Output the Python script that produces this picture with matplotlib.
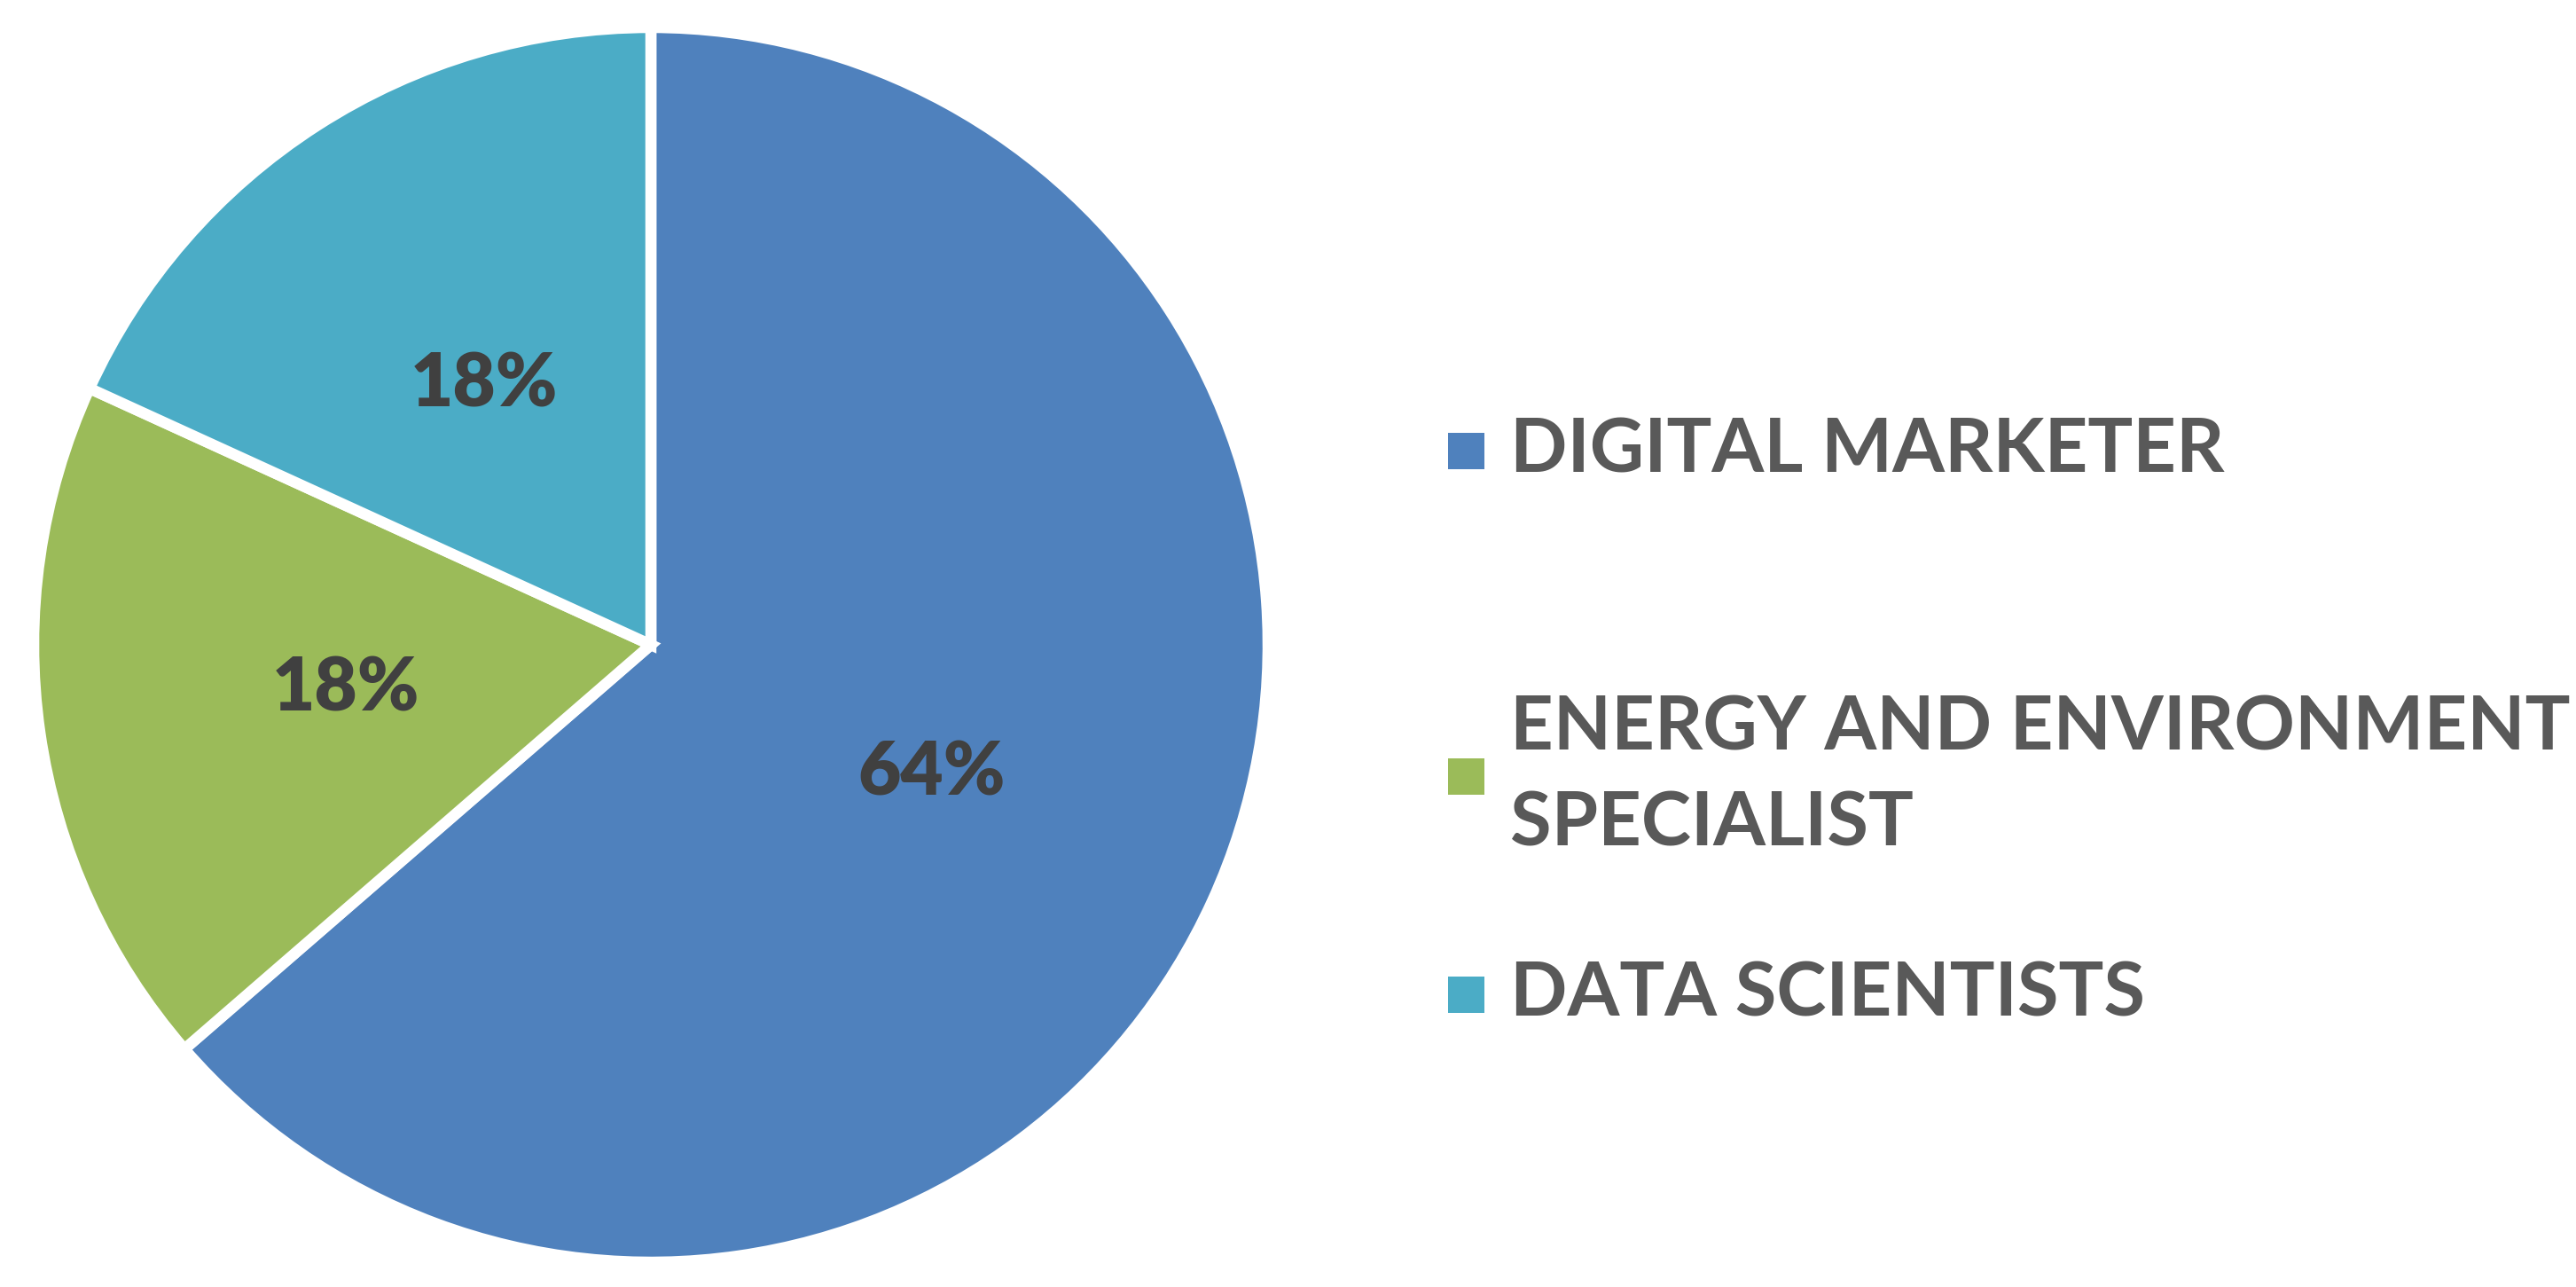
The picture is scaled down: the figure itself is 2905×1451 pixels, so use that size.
import matplotlib
matplotlib.use("Agg")
import matplotlib.pyplot as plt
from matplotlib.patches import Rectangle

categories = ["DIGITAL MARKETER", "ENERGY AND ENVIRONMENT\nSPECIALIST", "DATA SCIENTISTS"]
values = [7, 2, 2]
colors = ["#4F81BD", "#9BBB59", "#4BACC6"]

W, H = 2905, 1451
fig = plt.figure(figsize=(W / 100, H / 100), dpi=100)
cx, cy, r = 734, 727, 696
half = 710
ax = fig.add_axes([(cx - half) / W, (H - cy - half) / H, 2 * half / W, 2 * half / H])

wedges, texts, autotexts = ax.pie(
    values, colors=colors, startangle=90, counterclock=False, radius=1,
    autopct=lambda p: f"{p:.0f}%", pctdistance=0.5,
    wedgeprops=dict(edgecolor="white", linewidth=9),
    textprops=dict(color="#404040", fontsize=60, fontweight="heavy", family="Lato"),
)
ax.set_xlim(-half / r, half / r)
ax.set_ylim(-half / r, half / r)
ax.set_aspect("equal")
ax.axis("off")

# legend
sq = 41
ys = [508, 875, 1121]
for y, c, lab in zip(ys, colors, categories):
    fig.add_artist(Rectangle(((1633) / W, (H - y - sq / 2) / H), sq / W, sq / H,
                             transform=fig.transFigure, facecolor=c, edgecolor="none"))
    fig.text(1703 / W, (H - y) / H, lab, ha="left", va="center", fontsize=61,
             fontweight="bold", family="Lato", color="#595959", linespacing=1.5)

fig.savefig("out.png", dpi=100, facecolor="white")
